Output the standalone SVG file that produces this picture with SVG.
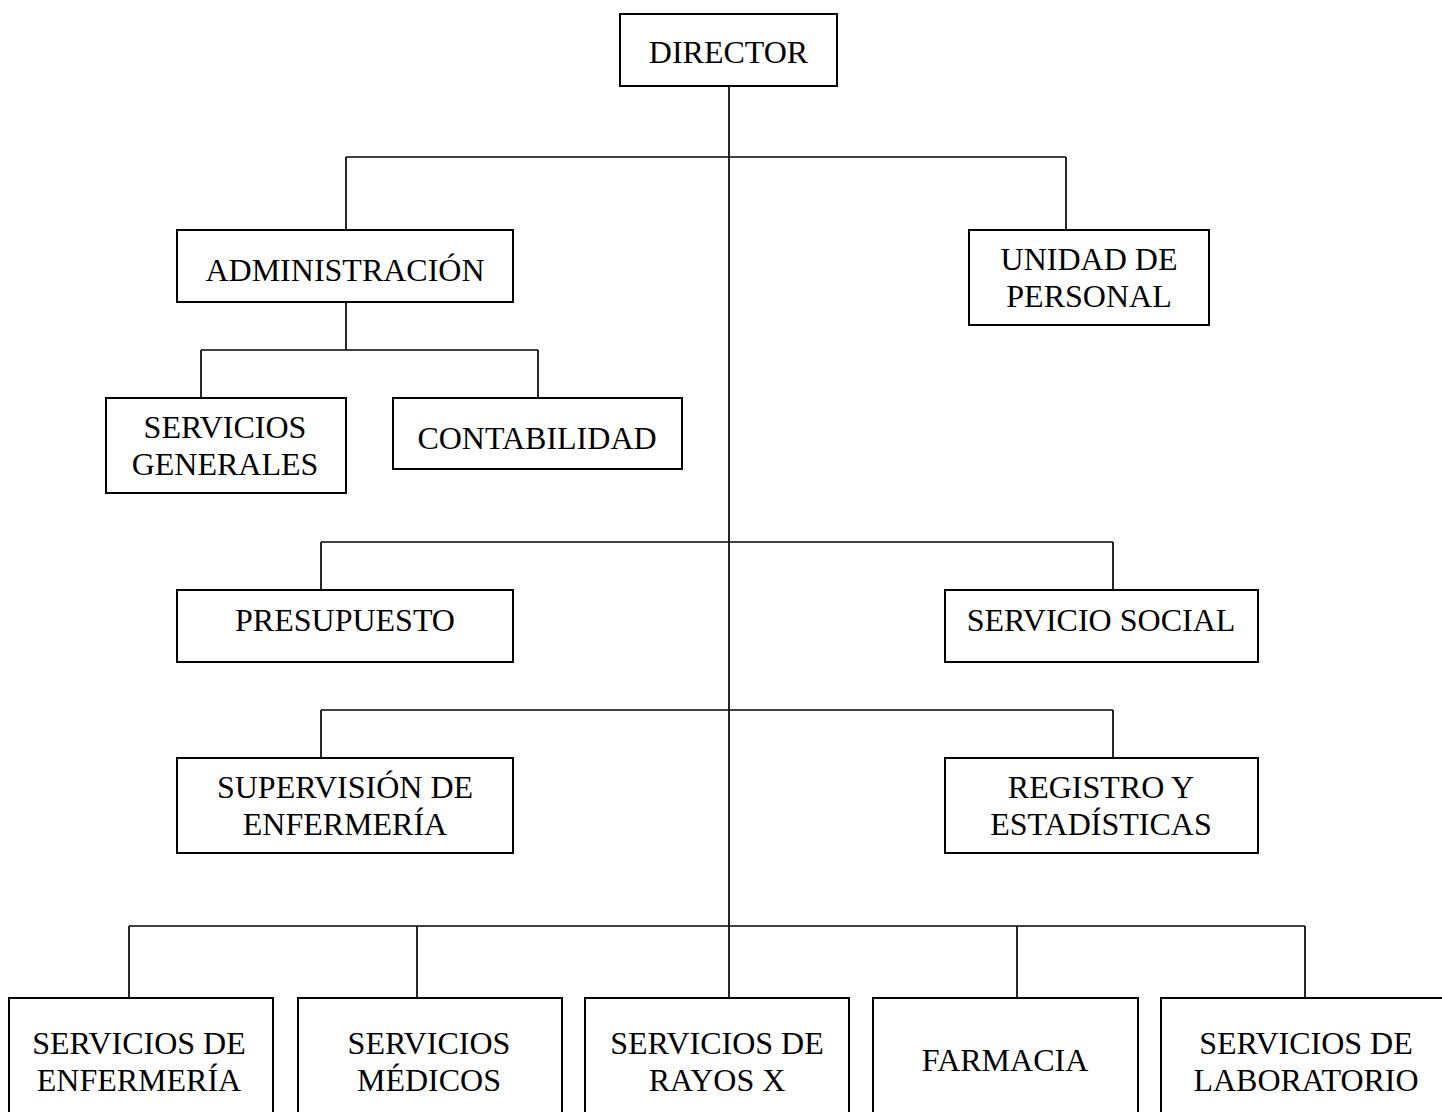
<svg xmlns="http://www.w3.org/2000/svg" width="1442" height="1112" viewBox="0 0 1442 1112">
<style>
.box{fill:#fff;stroke:#000;stroke-width:2}
.ln{fill:none;stroke:#000;stroke-width:1.7}
text{font-family:"Liberation Serif","Times New Roman",serif;font-size:32px;fill:#000;text-anchor:middle}
</style>
<rect width="1442" height="1112" fill="#fff"/>
<g id="connectors">
<path class="ln" d="M729,86V998M346,157H1066M346,157V230M1066,157V230"/>
<path class="ln" d="M346,302V350M201,350H538M201,350V398M538,350V398"/>
<path class="ln" d="M321,542H1113M321,542V590M1113,542V590"/>
<path class="ln" d="M321,710H1113M321,710V758M1113,710V758"/>
<path class="ln" d="M129,926H1305M129,926V998M417,926V998M1017,926V998M1305,926V998"/>
</g>
<g id="director"><rect class="box" x="620" y="14" width="217" height="72"/><text x="728.5" y="63">DIRECTOR</text></g>
<g id="administracion"><rect class="box" x="177" y="230" width="336" height="72"/><text x="345" y="281">ADMINISTRACIÓN</text></g>
<g id="unidad-personal"><rect class="box" x="969" y="230" width="240" height="95"/><text x="1089" y="270">UNIDAD DE</text><text x="1089" y="307">PERSONAL</text></g>
<g id="servicios-generales"><rect class="box" x="106" y="398" width="240" height="95"/><text x="225" y="438">SERVICIOS</text><text x="225" y="475">GENERALES</text></g>
<g id="contabilidad"><rect class="box" x="393" y="398" width="289" height="71"/><text x="537" y="449">CONTABILIDAD</text></g>
<g id="presupuesto"><rect class="box" x="177" y="590" width="336" height="72"/><text x="345" y="631">PRESUPUESTO</text></g>
<g id="servicio-social"><rect class="box" x="945" y="590" width="313" height="72"/><text x="1101" y="631">SERVICIO SOCIAL</text></g>
<g id="supervision-enfermeria"><rect class="box" x="177" y="758" width="336" height="95"/><text x="345" y="798">SUPERVISIÓN DE</text><text x="345" y="835">ENFERMERÍA</text></g>
<g id="registro-estadisticas"><rect class="box" x="945" y="758" width="313" height="95"/><text x="1101" y="798">REGISTRO Y</text><text x="1101" y="835">ESTADÍSTICAS</text></g>
<g id="servicios-enfermeria"><rect class="box" x="9" y="998" width="264" height="140"/><text x="139" y="1054">SERVICIOS DE</text><text x="139" y="1091">ENFERMERÍA</text></g>
<g id="servicios-medicos"><rect class="box" x="298" y="998" width="264" height="140"/><text x="429" y="1054">SERVICIOS</text><text x="429" y="1091">MÉDICOS</text></g>
<g id="servicios-rayos-x"><rect class="box" x="585" y="998" width="264" height="140"/><text x="717" y="1054">SERVICIOS DE</text><text x="717" y="1091">RAYOS X</text></g>
<g id="farmacia"><rect class="box" x="873" y="998" width="265" height="140"/><text x="1005" y="1071">FARMACIA</text></g>
<g id="servicios-laboratorio"><rect class="box" x="1161" y="998" width="290" height="140"/><text x="1306" y="1054">SERVICIOS DE</text><text x="1306" y="1091">LABORATORIO</text></g>
</svg>
